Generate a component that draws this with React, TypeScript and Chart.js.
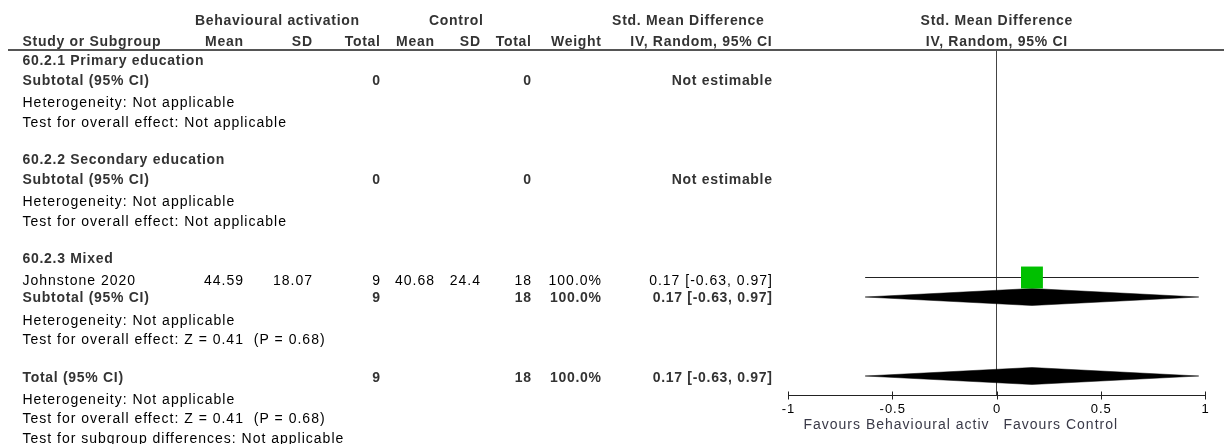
import React, { useEffect, useRef } from 'react';
import { Chart, registerables } from 'chart.js';

Chart.register(...registerables);

// ---------- data ----------
const groupTitles = ['60.2.1 Primary education', '60.2.2 Secondary education', '60.2.3 Mixed'];
const subtotalBA = [0, 0, 9];
const subtotalCT = [0, 0, 18];
const subtotalWeight = ['', '', '100.0%'];
const subtotalSMD: (number | null)[] = [null, null, 0.17];
const subtotalLow: (number | null)[] = [null, null, -0.63];
const subtotalHigh: (number | null)[] = [null, null, 0.97];
const groupHet = ['Heterogeneity: Not applicable', 'Heterogeneity: Not applicable', 'Heterogeneity: Not applicable'];
const groupTest = ['Test for overall effect: Not applicable', 'Test for overall effect: Not applicable', 'Test for overall effect: Z = 0.41  (P = 0.68)'];

const studyNames = ['Johnstone 2020'];
const baMean = ['44.59'];
const baSD = ['18.07'];
const baTotal = [9];
const ctMean = ['40.68'];
const ctSD = ['24.4'];
const ctTotal = [18];
const studyWeight = ['100.0%'];
const studySMD = [0.17];
const studyLow = [-0.63];
const studyHigh = [0.97];

const totalBA = [9];
const totalCT = [18];
const totalWeight = ['100.0%'];
const totalSMD = [0.17];
const totalLow = [-0.63];
const totalHigh = [0.97];
const totalNotes = ['Heterogeneity: Not applicable', 'Test for overall effect: Z = 0.41  (P = 0.68)', 'Test for subgroup differences: Not applicable'];

const xTickValues = [-1, -0.5, 0, 0.5, 1];
const xTickLabels = ['-1', '-0.5', '0', '0.5', '1'];
const favoursLeft = 'Favours Behavioural activ';
const favoursRight = 'Favours Control';

// ---------- layout (pixels) ----------
const LAYOUT = {
  hdr1Y: 21,
  hdr2Y: 42,
  lineY: 50,
  groupTitleY: [61, 160, 259],
  subtotalY: [81, 180, 298],
  hetY: [103, 202, 321],
  testY: [123, 222, 340],
  studyY: [277.5],
  studyTextY: [281],
  subDiamondY: [297, 297, 297],
  totalY: 378,
  totalDiamondY: 376,
  totalNotesY: [400, 419, 439],
  axisY: 395.5,
  tickLabelY: 409,
  favoursY: 425,
  diamondHalf: 8.5,
  leftX: 22.5,
  colMean: 243,
  colSD: 312,
  colTotal: 380,
  colCMean: 434,
  colCSD: 480,
  colCTotal: 531,
  colWeight: 601,
  colCI: 772,
};

const fmt = (v: number) => v.toFixed(2);
const ciText = (m: number, l: number, h: number) => `${fmt(m)} [${fmt(l)}, ${fmt(h)}]`;

const FONT = '"Liberation Sans", Arial, sans-serif';
const BOLD_COLOR = '#333';

function drawText(
  ctx: CanvasRenderingContext2D,
  s: string,
  x: number,
  y: number,
  align: CanvasTextAlign,
  bold: boolean,
  color = '#000',
  size = 14
) {
  const sp = bold ? 0.7 : 1;
  ctx.font = `${bold ? 'bold ' : ''}${size}px ${FONT}`;
  (ctx as any).letterSpacing = `${sp}px`;
  ctx.textAlign = align;
  ctx.textBaseline = 'middle';
  ctx.fillStyle = color;
  let xx = x;
  if (align === 'right') xx = x + sp;
  else if (align === 'center') xx = x + sp / 2;
  ctx.fillText(s, xx, y);
}

const tablePlugin = {
  id: 'forestTable',
  afterDraw(chart: any) {
    const ctx: CanvasRenderingContext2D = chart.ctx;
    const xs = chart.scales.x;
    const L = LAYOUT;
    ctx.save();

    // headers
    drawText(ctx, 'Behavioural activation', 277, L.hdr1Y, 'center', true, BOLD_COLOR);
    drawText(ctx, 'Control', 456, L.hdr1Y, 'center', true, BOLD_COLOR);
    drawText(ctx, 'Std. Mean Difference', 688, L.hdr1Y, 'center', true, BOLD_COLOR);
    drawText(ctx, 'Std. Mean Difference', xs.getPixelForValue(0), L.hdr1Y, 'center', true, BOLD_COLOR);
    drawText(ctx, 'Study or Subgroup', L.leftX, L.hdr2Y, 'left', true, BOLD_COLOR);
    drawText(ctx, 'Mean', L.colMean, L.hdr2Y, 'right', true, BOLD_COLOR);
    drawText(ctx, 'SD', L.colSD, L.hdr2Y, 'right', true, BOLD_COLOR);
    drawText(ctx, 'Total', L.colTotal, L.hdr2Y, 'right', true, BOLD_COLOR);
    drawText(ctx, 'Mean', L.colCMean, L.hdr2Y, 'right', true, BOLD_COLOR);
    drawText(ctx, 'SD', L.colCSD, L.hdr2Y, 'right', true, BOLD_COLOR);
    drawText(ctx, 'Total', L.colCTotal, L.hdr2Y, 'right', true, BOLD_COLOR);
    drawText(ctx, 'Weight', L.colWeight, L.hdr2Y, 'right', true, BOLD_COLOR);
    drawText(ctx, 'IV, Random, 95% CI', 701, L.hdr2Y, 'center', true, BOLD_COLOR);
    drawText(ctx, 'IV, Random, 95% CI', xs.getPixelForValue(0), L.hdr2Y, 'center', true, BOLD_COLOR);

    // header rule
    ctx.strokeStyle = '#555';
    ctx.lineWidth = 2;
    ctx.beginPath();
    ctx.moveTo(8, L.lineY);
    ctx.lineTo(1224, L.lineY);
    ctx.stroke();

    // groups
    groupTitles.forEach((g, i) => {
      drawText(ctx, g, L.leftX, L.groupTitleY[i], 'left', true, BOLD_COLOR);
      drawText(ctx, 'Subtotal (95% CI)', L.leftX, L.subtotalY[i], 'left', true, BOLD_COLOR);
      drawText(ctx, String(subtotalBA[i]), L.colTotal, L.subtotalY[i], 'right', true, BOLD_COLOR);
      drawText(ctx, String(subtotalCT[i]), L.colCTotal, L.subtotalY[i], 'right', true, BOLD_COLOR);
      if (subtotalWeight[i]) drawText(ctx, subtotalWeight[i], L.colWeight, L.subtotalY[i], 'right', true, BOLD_COLOR);
      const m = subtotalSMD[i];
      const s = m === null ? 'Not estimable' : ciText(m, subtotalLow[i] as number, subtotalHigh[i] as number);
      drawText(ctx, s, L.colCI, L.subtotalY[i], 'right', true, BOLD_COLOR);
      drawText(ctx, groupHet[i], L.leftX, L.hetY[i], 'left', false);
      drawText(ctx, groupTest[i], L.leftX, L.testY[i], 'left', false);
    });

    // studies
    studyNames.forEach((n, i) => {
      const y = L.studyTextY[i];
      drawText(ctx, n, L.leftX, y, 'left', false);
      drawText(ctx, baMean[i], L.colMean, y, 'right', false);
      drawText(ctx, baSD[i], L.colSD, y, 'right', false);
      drawText(ctx, String(baTotal[i]), L.colTotal, y, 'right', false);
      drawText(ctx, ctMean[i], L.colCMean, y, 'right', false);
      drawText(ctx, ctSD[i], L.colCSD, y, 'right', false);
      drawText(ctx, String(ctTotal[i]), L.colCTotal, y, 'right', false);
      drawText(ctx, studyWeight[i], L.colWeight, y, 'right', false);
      drawText(ctx, ciText(studySMD[i], studyLow[i], studyHigh[i]), L.colCI, y, 'right', false);
    });

    // total
    drawText(ctx, 'Total (95% CI)', L.leftX, L.totalY, 'left', true, BOLD_COLOR);
    drawText(ctx, String(totalBA[0]), L.colTotal, L.totalY, 'right', true, BOLD_COLOR);
    drawText(ctx, String(totalCT[0]), L.colCTotal, L.totalY, 'right', true, BOLD_COLOR);
    drawText(ctx, totalWeight[0], L.colWeight, L.totalY, 'right', true, BOLD_COLOR);
    drawText(ctx, ciText(totalSMD[0], totalLow[0], totalHigh[0]), L.colCI, L.totalY, 'right', true, BOLD_COLOR);
    totalNotes.forEach((t, i) => drawText(ctx, t, L.leftX, L.totalNotesY[i], 'left', false));

    // axis
    const x0 = xs.getPixelForValue(xTickValues[0]);
    const x1 = xs.getPixelForValue(xTickValues[xTickValues.length - 1]);
    ctx.strokeStyle = '#222';
    ctx.lineWidth = 1;
    ctx.beginPath();
    ctx.moveTo(x0, L.axisY);
    ctx.lineTo(x1 + 1, L.axisY);
    xTickValues.forEach((v) => {
      const px = Math.round(xs.getPixelForValue(v)) + 0.5;
      ctx.moveTo(px, L.axisY - 4);
      ctx.lineTo(px, L.axisY + 4);
    });
    ctx.stroke();
    xTickValues.forEach((v, i) => {
      drawText(ctx, xTickLabels[i], xs.getPixelForValue(v), L.tickLabelY, 'center', false, '#000', 13);
    });
    const zx = xs.getPixelForValue(0);
    drawText(ctx, favoursLeft, zx - 8, L.favoursY, 'right', false, '#3a3a48');
    drawText(ctx, favoursRight, zx + 7, L.favoursY, 'left', false, '#3a3a48');

    ctx.restore();
  },
};

function diamond(m: number, lo: number, hi: number, yc: number) {
  const h = LAYOUT.diamondHalf;
  return [
    { x: lo, y: yc },
    { x: m, y: yc - h },
    { x: hi, y: yc },
    { x: m, y: yc + h },
    { x: lo, y: yc },
  ];
}

export default function App() {
  const ref = useRef<HTMLCanvasElement>(null);

  useEffect(() => {
    const canvas = ref.current;
    if (!canvas) return;

    const datasets: any[] = [];

    // study squares (on top)
    studySMD.forEach((m, i) => {
      datasets.push({
        label: studyNames[i],
        data: [{ x: m, y: LAYOUT.studyY[i] }],
        pointStyle: 'rect',
        pointRadius: 15.5,
        backgroundColor: '#00C000',
        borderWidth: 0,
        order: 0,
      });
    });

    // subtotal diamonds
    subtotalSMD.forEach((m, i) => {
      if (m === null) return;
      datasets.push({
        label: 'Subtotal ' + (i + 1),
        data: diamond(m, subtotalLow[i] as number, subtotalHigh[i] as number, LAYOUT.subDiamondY[i]),
        showLine: true,
        fill: 'shape',
        backgroundColor: '#000',
        borderColor: '#000',
        borderWidth: 0.5,
        pointRadius: 0,
        tension: 0,
        order: 1,
      });
    });

    // total diamond
    datasets.push({
      label: 'Total',
      data: diamond(totalSMD[0], totalLow[0], totalHigh[0], LAYOUT.totalDiamondY),
      showLine: true,
      fill: 'shape',
      backgroundColor: '#000',
      borderColor: '#000',
      borderWidth: 0.5,
      pointRadius: 0,
      tension: 0,
      order: 1,
    });

    // study CI lines
    studySMD.forEach((_, i) => {
      datasets.push({
        label: 'CI ' + studyNames[i],
        data: [
          { x: studyLow[i], y: LAYOUT.studyY[i] },
          { x: studyHigh[i], y: LAYOUT.studyY[i] },
        ],
        showLine: true,
        borderColor: '#222',
        borderWidth: 1,
        pointRadius: 0,
        fill: false,
        order: 2,
      });
    });

    // line of no effect
    datasets.push({
      label: 'No effect',
      data: [
        { x: 0, y: LAYOUT.lineY },
        { x: 0, y: LAYOUT.axisY },
      ],
      showLine: true,
      borderColor: '#444',
      borderWidth: 1,
      pointRadius: 0,
      fill: false,
      order: 3,
    });

    const chart = new Chart(canvas, {
      type: 'scatter',
      data: { datasets },
      options: {
        animation: false,
        responsive: false,
        devicePixelRatio: 1,
        layout: { autoPadding: false, padding: { left: 788, right: 19, top: 0, bottom: 0 } },
        plugins: { legend: { display: false }, tooltip: { enabled: false } },
        events: [],
        scales: {
          x: { type: 'linear', min: -1, max: 1, display: false },
          y: { type: 'linear', min: 0, max: 444, reverse: true, display: false },
        },
        elements: { line: { tension: 0 } },
      } as any,
      plugins: [tablePlugin],
    });

    return () => chart.destroy();
  }, []);

  return (
    <div style={{ position: 'fixed', left: 0, top: 0, width: 1224, height: 444, background: '#fff' }}>
      <canvas ref={ref} width={1224} height={444} style={{ display: 'block', width: 1224, height: 444 }} />
    </div>
  );
}
